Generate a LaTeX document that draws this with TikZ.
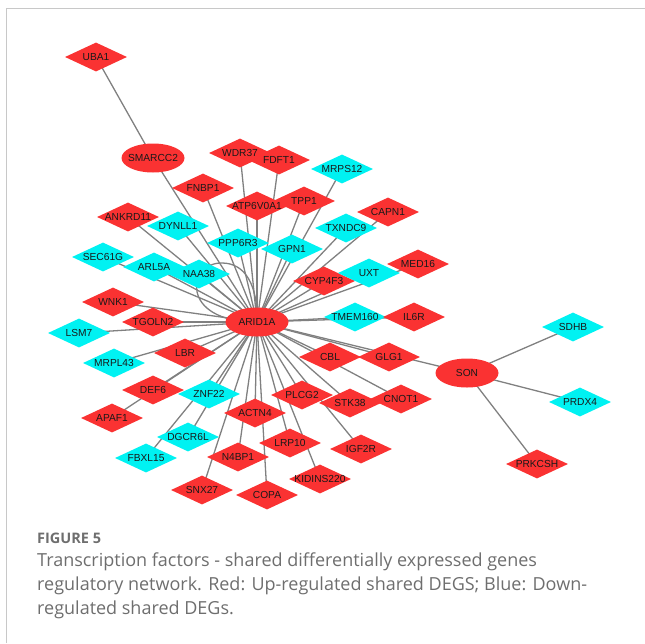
\documentclass[tikz,border=0pt]{standalone}
\usepackage{fontspec}
\setmainfont{Liberation Sans}
\newfontfamily\capfont{Open Sans}
\usetikzlibrary{shapes.geometric,calc}

\pgfdeclarelayer{edges}
\pgfdeclarelayer{labels}
\pgfsetlayers{edges,main,labels}

\definecolor{upred}{RGB}{250,50,50}
\definecolor{downcyan}{RGB}{0,242,242}
\definecolor{edgegray}{RGB}{128,128,128}
\definecolor{capgray}{RGB}{110,110,110}
\definecolor{framegray}{RGB}{200,200,200}

\tikzset{
  gene/.style={diamond, minimum width=62pt, minimum height=29pt, inner sep=0pt},
  up/.style={gene, fill=upred},
  down/.style={gene, fill=downcyan},
  hub/.style={ellipse, minimum width=63pt, minimum height=29pt, inner sep=0pt, fill=upred},
  genelabel/.style={font=\fontsize{10.2}{11}\selectfont, text=black!90, inner sep=0pt},
  link/.style={draw=edgegray, line width=1.3pt},
  captitle/.style={font=\capfont\bfseries\fontsize{14.5}{16}\selectfont, text=capgray, inner sep=0pt},
  captext/.style={font=\capfont\fontsize{18}{24}\selectfont, text=capgray, inner sep=0pt, align=left},
}

% \gene{style}{name}{x}{y}: a shape with its name printed on top of everything
\newcommand\gene[4]{%
  \node[#1] (#2) at (#3,#4) {};
  \begin{pgfonlayer}{labels}\node[genelabel] (#2-txt) at (#2) {#2};\end{pgfonlayer}%
}

\begin{document}
\begin{tikzpicture}[x=1pt,y=-1pt]
\useasboundingbox (0,0) rectangle (645,643);

% frame
\draw[framegray, line width=0.8pt] (6,643) -- (6,8) -- (645,8);

% nodes
\gene{up}{UBA1}{96}{57}
\gene{hub}{SMARCC2}{153}{158}
\gene{up}{FDFT1}{279}{160}
\gene{up}{WDR37}{240}{153}
\gene{down}{MRPS12}{342}{169}
\gene{up}{FNBP1}{203}{188}
\gene{up}{TPP1}{304}{201}
\gene{up}{ATP6V0A1}{257}{206}
\gene{up}{CAPN1}{388}{212}
\gene{down}{DYNLL1}{178}{226}
\gene{up}{ANKRD11}{128}{217}
\gene{down}{TXNDC9}{346}{228}
\gene{down}{PPP6R3}{238}{243}
\gene{down}{GPN1}{292}{249}
\gene{down}{SEC61G}{103}{257}
\gene{down}{ARL5A}{154}{267}
\gene{down}{NAA38}{199}{274}
\gene{up}{CYP4F3}{324}{281}
\gene{down}{UXT}{369}{273}
\gene{up}{MED16}{418}{264}
\gene{up}{WNK1}{113}{302}
\gene{up}{TGOLN2}{153}{322}
\gene{down}{LSM7}{79}{333}
\gene{hub}{ARID1A}{257}{322}
\gene{down}{TMEM160}{355}{317}
\gene{up}{IL6R}{414}{317}
\gene{up}{LBR}{185}{353}
\gene{down}{MRPL43}{114}{363}
\gene{up}{CBL}{330}{357}
\gene{up}{GLG1}{389}{357}
\gene{hub}{SON}{467}{373}
\gene{down}{SDHB}{573}{327}
\gene{down}{PRDX4}{580}{402}
\gene{up}{PRKCSH}{537}{464}
\gene{up}{DEF6}{153}{390}
\gene{down}{ZNF22}{209}{394}
\gene{up}{APAF1}{112}{418}
\gene{up}{PLCG2}{302}{395}
\gene{up}{CNOT1}{401}{399}
\gene{up}{STK38}{350}{403}
\gene{up}{ACTN4}{255}{413}
\gene{down}{DGCR6L}{188}{437}
\gene{down}{FBXL15}{146}{458}
\gene{up}{LRP10}{290}{443}
\gene{up}{IGF2R}{361}{449}
\gene{up}{N4BP1}{238}{457}
\gene{up}{KIDINS220}{320}{479}
\gene{up}{SNX27}{202}{490}
\gene{up}{COPA}{267}{495}

% edges
\begin{pgfonlayer}{edges}
  \foreach \g in {SMARCC2,WDR37,FDFT1,MRPS12,FNBP1,TPP1,ATP6V0A1,CAPN1,ANKRD11,
    DYNLL1,TXNDC9,PPP6R3,GPN1,SEC61G,ARL5A,NAA38,CYP4F3,UXT,MED16,WNK1,TGOLN2,
    LSM7,TMEM160,IL6R,LBR,MRPL43,CBL,GLG1,SON,DEF6,ZNF22,APAF1,PLCG2,CNOT1,
    STK38,ACTN4,DGCR6L,FBXL15,LRP10,IGF2R,N4BP1,KIDINS220,SNX27,COPA}
    \draw[link] (ARID1A.center) -- (\g.center);
  \draw[link] (SMARCC2.center) -- (UBA1.center);
  \foreach \g in {SDHB,PRDX4,PRKCSH}
    \draw[link] (SON.center) -- (\g.center);
  % self-loop on ARID1A
  \draw[link] (ARID1A.center) .. controls +(-79,0) and +(-34,-1) ..
    ($(ARID1A.center)+(-35,-59)$) coordinate (looptop)
    .. controls +(23,0) and +(1,-37) .. (ARID1A.center);
\end{pgfonlayer}

% caption
\node[captitle, anchor=base west] (figno) at (37,543) {FIGURE 5};
\node[captext, anchor=north west] (caption) at (37,553)
  {Transcription factors - shared differentially expressed genes\\
   regulatory network. Red: Up-regulated shared DEGS; Blue: Down-\\
   regulated shared DEGs.};
\end{tikzpicture}
\end{document}
